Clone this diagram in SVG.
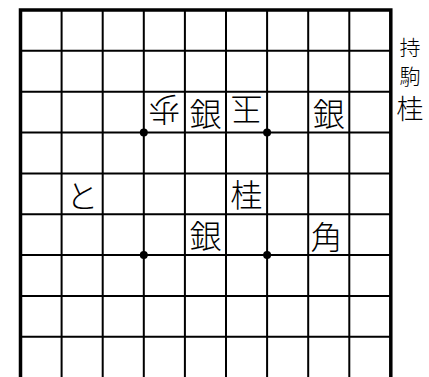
<svg xmlns="http://www.w3.org/2000/svg" width="429" height="377" viewBox="0 0 429 377">
<style>
.g{stroke:#000;stroke-width:2;fill:none}
.b{stroke:#000;stroke-width:3.5;fill:none}
.p{font-family:"Noto Sans CJK JP","Noto Sans CJK SC",sans-serif;font-size:32px;font-weight:300;text-anchor:middle;dominant-baseline:central;fill:#000}
.h{font-size:21px}
</style>
<rect width="429" height="377" fill="#fff"/>
<g id="grid">
<path class="g" d="M61.6 10V378M102.7 10V378M143.8 10V378M184.9 10V378M226 10V378M267.1 10V378M308.2 10V378M349.3 10V378"/>
<path class="g" d="M20.5 50.85H390.8M20.5 91.7H390.8M20.5 132.55H390.8M20.5 173.4H390.8M20.5 214.25H390.8M20.5 255.1H390.8M20.5 295.95H390.8M20.5 336.8H390.8"/>
<rect class="b" x="20.5" y="10" width="370.3" height="369"/>
<circle cx="143.8" cy="132.55" r="4"/>
<circle cx="267.1" cy="132.55" r="4"/>
<circle cx="143.8" cy="255.1" r="4"/>
<circle cx="267.1" cy="255.1" r="4"/>
</g>
<g id="pieces">
<g id="p-fu"><text class="p" x="164.3" y="111.5" transform="rotate(180 164.3 111.5)">歩</text></g>
<g id="p-gin1"><text class="p" x="205.5" y="111.5">銀</text></g>
<g id="p-gyoku"><text class="p" x="246.5" y="111.5" transform="rotate(180 246.5 111.5)">玉</text></g>
<g id="p-gin2"><text class="p" x="328.7" y="111.5">銀</text></g>
<g id="p-to"><text class="p" x="82.2" y="193.5">と</text></g>
<g id="p-kei"><text class="p" x="246.5" y="193">桂</text></g>
<g id="p-gin3"><text class="p" x="205.5" y="234">銀</text></g>
<g id="p-kaku"><text class="p" x="326.5" y="234.5">角</text></g>
</g>
<g id="hand">
<text class="p h" x="410" y="46">持</text>
<text class="p h" x="410" y="75">駒</text>
<text class="p" x="410" y="107" style="font-size:27px">桂</text>
</g>
</svg>
